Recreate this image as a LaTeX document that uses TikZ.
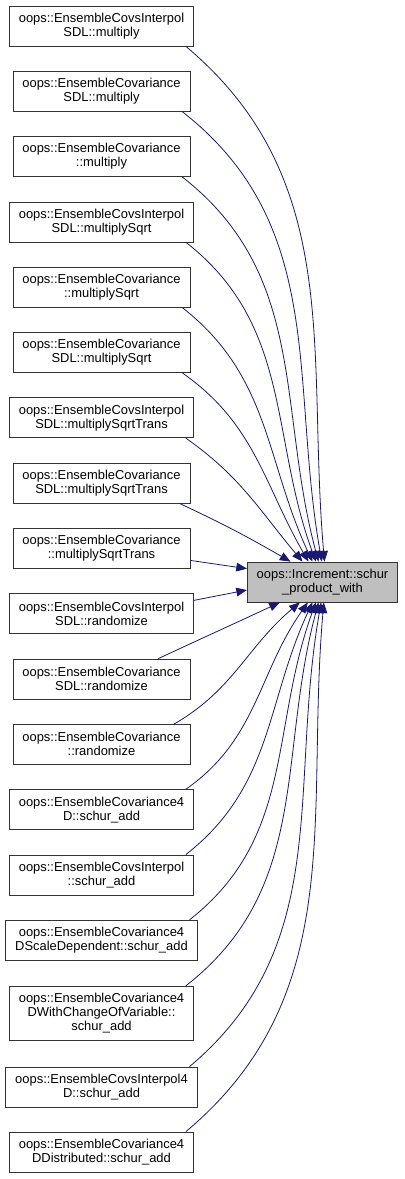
\documentclass[tikz,border=0pt]{standalone}
\usepackage{fontspec}
\setmainfont{Liberation Sans}
\usetikzlibrary{arrows.meta}

\begin{document}
\begin{tikzpicture}[
      x=0.75pt, y=-0.75pt,
      font=\fontsize{9.7}{10.5}\selectfont,
      caller/.style={rectangle, draw=black!80, semithick, fill=white, align=center,
        inner xsep=7pt, inner ysep=0pt, minimum height=30pt},
      callee/.style={caller, fill=black!25},
      edge/.style={-{Triangle[length=8pt, width=6.5pt]}, draw={rgb,255:red,25;green,25;blue,112}, semithick}
    ]
    \useasboundingbox (0,0) rectangle (404,1179);

    \node[callee] (schur) at (322.5,582) {oops::Increment::schur\\\_product\_with};

    \node[caller] (intSdlMul) at (101.5,26) {oops::EnsembleCovsInterpol\\SDL::multiply};
    \node[caller] (covSdlMul) at (101.5,91.3) {oops::EnsembleCovariance\\SDL::multiply};
    \node[caller] (covMul) at (101.5,156.6) {oops::EnsembleCovariance\\::multiply};
    \node[caller] (intSdlSqrt) at (101.5,221.9) {oops::EnsembleCovsInterpol\\SDL::multiplySqrt};
    \node[caller] (covSqrt) at (101.5,287.2) {oops::EnsembleCovariance\\::multiplySqrt};
    \node[caller] (covSdlSqrt) at (101.5,352.5) {oops::EnsembleCovariance\\SDL::multiplySqrt};
    \node[caller] (intSdlTrans) at (101.5,417.8) {oops::EnsembleCovsInterpol\\SDL::multiplySqrtTrans};
    \node[caller] (covSdlTrans) at (101.5,483.1) {oops::EnsembleCovariance\\SDL::multiplySqrtTrans};
    \node[caller] (covTrans) at (101.5,548.4) {oops::EnsembleCovariance\\::multiplySqrtTrans};
    \node[caller] (intSdlRand) at (101.5,613.7) {oops::EnsembleCovsInterpol\\SDL::randomize};
    \node[caller] (covSdlRand) at (101.5,679) {oops::EnsembleCovariance\\SDL::randomize};
    \node[caller] (covRand) at (101.5,744.3) {oops::EnsembleCovariance\\::randomize};
    \node[caller] (cov4dAdd) at (101.5,809.6) {oops::EnsembleCovariance4\\D::schur\_add};
    \node[caller] (intAdd) at (101.5,874.9) {oops::EnsembleCovsInterpol\\::schur\_add};
    \node[caller] (cov4dScaleAdd) at (101.5,940.2) {oops::EnsembleCovariance4\\DScaleDependent::schur\_add};
    \node[caller, minimum height=41pt] (cov4dChangeAdd) at (101.5,1013.5) {oops::EnsembleCovariance4\\DWithChangeOfVariable::\\schur\_add};
    \node[caller] (int4dAdd) at (101.5,1087) {oops::EnsembleCovsInterpol4\\D::schur\_add};
    \node[caller] (cov4dDistAdd) at (101.5,1152) {oops::EnsembleCovariance4\\DDistributed::schur\_add};

    % callers above the callee
    \draw[edge] ([xshift=-6pt]intSdlMul.south east) to[out=-40, in=95] ([xshift=1.5pt]schur.north);
    \draw[edge] ([xshift=-6pt]covSdlMul.south east) to[out=-38, in=100] ([xshift=-0.5pt]schur.north);
    \draw[edge] ([xshift=-6pt]covMul.south east) to[out=-38, in=105] ([xshift=-3pt]schur.north);
    \draw[edge] ([xshift=-6pt]intSdlSqrt.south east) to[out=-38, in=110] ([xshift=-5pt]schur.north);
    \draw[edge] ([xshift=-6pt]covSqrt.south east) to[out=-38, in=115] ([xshift=-7.5pt]schur.north);
    \draw[edge] ([xshift=-6pt]covSdlSqrt.south east) to[out=-35, in=120] ([xshift=-10.5pt]schur.north);
    \draw[edge] ([xshift=-6pt]intSdlTrans.south east) to[out=-35, in=130] ([xshift=-15pt]schur.north);
    \draw[edge] ([xshift=-8pt]covSdlTrans.south east) to[out=-25, in=150] ([xshift=-24pt]schur.north);

    % callers beside the callee
    \draw[edge] ([yshift=-9pt]covTrans.east) -- ([yshift=10pt]schur.west);
    \draw[edge] ([yshift=10pt]intSdlRand.east) -- ([yshift=-6pt]schur.west);

    % callers below the callee
    \draw[edge] ([xshift=-24pt]covSdlRand.north east) to[out=25, in=-155] ([xshift=-32pt]schur.south);
    \draw[edge] ([xshift=-12pt]covRand.north east) to[out=30, in=-140] ([xshift=-17pt]schur.south);
    \draw[edge] ([xshift=-6pt]cov4dAdd.north east) to[out=35, in=-125] ([xshift=-11pt]schur.south);
    \draw[edge] ([xshift=-6pt]intAdd.north east) to[out=38, in=-115] ([xshift=-7.5pt]schur.south);
    \draw[edge] ([xshift=-6pt]cov4dScaleAdd.north east) to[out=38, in=-110] ([xshift=-5pt]schur.south);
    \draw[edge] ([xshift=-6pt]cov4dChangeAdd.north east) to[out=38, in=-105] ([xshift=-3pt]schur.south);
    \draw[edge] ([xshift=-6pt]int4dAdd.north east) to[out=40, in=-100] ([xshift=-1pt]schur.south);
    \draw[edge] ([xshift=-6pt]cov4dDistAdd.north east) to[out=40, in=-95] ([xshift=1pt]schur.south);
  \end{tikzpicture}
\end{document}
